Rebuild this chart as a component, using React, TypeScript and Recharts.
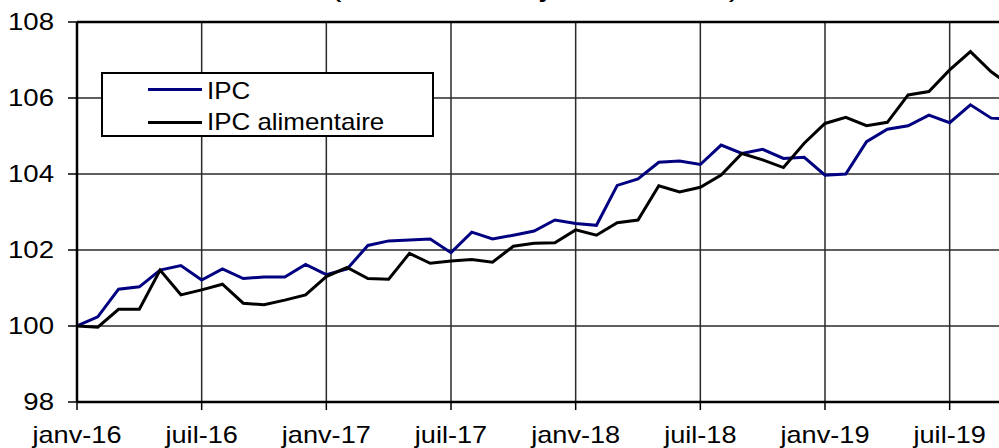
import {
  CartesianGrid,
  Legend,
  Line,
  LineChart,
  ReferenceLine,
  XAxis,
  YAxis,
} from "recharts";

// monthly index, base 100 = janv-16
const months = [
  "janv-16", "févr-16", "mars-16", "avr-16", "mai-16", "juin-16",
  "juil-16", "août-16", "sept-16", "oct-16", "nov-16", "déc-16",
  "janv-17", "févr-17", "mars-17", "avr-17", "mai-17", "juin-17",
  "juil-17", "août-17", "sept-17", "oct-17", "nov-17", "déc-17",
  "janv-18", "févr-18", "mars-18", "avr-18", "mai-18", "juin-18",
  "juil-18", "août-18", "sept-18", "oct-18", "nov-18", "déc-18",
  "janv-19", "févr-19", "mars-19", "avr-19", "mai-19", "juin-19",
  "juil-19", "août-19", "sept-19", "oct-19",
];

const ipc = [
  100.0, 100.24, 100.97, 101.03, 101.47, 101.59, 101.21, 101.5, 101.25, 101.29, 101.29, 101.62,
  101.35, 101.5, 102.12, 102.24, 102.26, 102.29, 101.93, 102.47, 102.29, 102.39, 102.5, 102.79,
  102.7, 102.65, 103.7, 103.87, 104.31, 104.34, 104.25, 104.76, 104.54, 104.65, 104.41, 104.44,
  103.97, 104.0, 104.85, 105.18, 105.27, 105.55, 105.35, 105.82, 105.47, 105.45,
];

const ipcAlim = [
  100.0, 99.97, 100.44, 100.44, 101.47, 100.82, 100.95, 101.1, 100.6, 100.56, 100.68, 100.82,
  101.3, 101.54, 101.25, 101.23, 101.91, 101.65, 101.71, 101.75, 101.68, 102.1, 102.18, 102.19,
  102.53, 102.39, 102.72, 102.79, 103.69, 103.53, 103.65, 103.97, 104.54, 104.37, 104.17, 104.81,
  105.33, 105.49, 105.27, 105.36, 106.08, 106.17, 106.74, 107.22, 106.69, 106.3,
];

const xTicks = [0, 6, 12, 18, 24, 30, 36, 42];
const yTicks = [98, 100, 102, 104, 106, 108];

const data = months.map((m, i) => ({ idx: i, month: m, ipc: ipc[i], alim: ipcAlim[i] }));

const FONT = "'Liberation Sans', Arial, sans-serif";

function YTick({ x, y, payload }: any) {
  return (
    <text
      transform={`translate(${x},${y}) scale(1.2,1)`}
      textAnchor="end"
      dy="0.36em"
      fontSize={23}
      fontFamily={FONT}
      fill="#000"
    >
      {payload.value}
    </text>
  );
}

function XTick({ x, y, payload }: any) {
  return (
    <text
      transform={`translate(${x},${y + 31}) scale(1.18,1)`}
      textAnchor="middle"
      fontSize={23}
      fontFamily={FONT}
      fill="#000"
    >
      {months[payload.value]}
    </text>
  );
}

function LegendBox() {
  const item = (color: string, label: string, lineTop: number, textTop: number) => (
    <>
      <div
        style={{
          position: "absolute",
          left: 45,
          top: lineTop,
          width: 54,
          height: 3,
          background: color,
        }}
      />
      <span
        style={{
          position: "absolute",
          left: 104,
          top: textTop,
          fontSize: 24,
          lineHeight: "24px",
          whiteSpace: "nowrap",
          transform: "scale(1.08,1)",
          transformOrigin: "left center",
          color: "#000",
        }}
      >
        {label}
      </span>
    </>
  );
  return (
    <div
      style={{
        position: "relative",
        width: 333,
        height: 65,
        boxSizing: "border-box",
        border: "2px solid #000",
        background: "#fff",
        fontFamily: FONT,
      }}
    >
      {item("#000080", "IPC", 13.5, 5)}
      {item("#000", "IPC alimentaire", 46.5, 36)}
    </div>
  );
}

export default function App() {
  return (
    <div
      style={{
        position: "absolute",
        left: 0,
        top: 0,
        width: 999,
        height: 448,
        overflow: "hidden",
        background: "#fff",
      }}
    >
      {/* title line sits above the crop, only its descenders show */}
      <svg width={999} height={20} style={{ position: "absolute", left: 0, top: 0 }}>
        <text
          transform="translate(535,-4) scale(1.15,1)"
          textAnchor="middle"
          fontSize={30}
          fontFamily={FONT}
          fill="#000"
        >
          (base 100 en janvier 2016)
        </text>
      </svg>
      <LineChart
        width={1012}
        height={448}
        data={data}
        margin={{ top: 22, right: 0, bottom: 0, left: 0 }}
      >
        <CartesianGrid stroke="#2a2a2a" strokeWidth={1.5} />
        <XAxis
          dataKey="idx"
          type="number"
          domain={[0, 45]}
          ticks={xTicks}
          interval={0}
          height={46}
          tickSize={8}
          tickMargin={2}
          axisLine={{ stroke: "#000", strokeWidth: 2.5 }}
          tickLine={{ stroke: "#000", strokeWidth: 1.5 }}
          tick={XTick}
          allowDataOverflow
        />
        <YAxis
          domain={[98, 108]}
          ticks={yTicks}
          interval={0}
          width={77}
          tickSize={9}
          tickMargin={14}
          axisLine={{ stroke: "#000", strokeWidth: 2.5 }}
          tickLine={{ stroke: "#000", strokeWidth: 1.5 }}
          tick={YTick}
          allowDataOverflow
        />
        <ReferenceLine y={108} stroke="#000" strokeWidth={2.5} />
        <Legend
          layout="horizontal"
          verticalAlign="middle"
          align="center"
          wrapperStyle={{ top: 72, left: 101, width: 333, height: 65 }}
          content={() => <LegendBox />}
        />
        <Line
          type="linear"
          dataKey="ipc"
          name="IPC"
          stroke="#000080"
          strokeWidth={3}
          dot={false}
          isAnimationActive={false}
        />
        <Line
          type="linear"
          dataKey="alim"
          name="IPC alimentaire"
          stroke="#000"
          strokeWidth={3}
          dot={false}
          isAnimationActive={false}
        />
      </LineChart>
    </div>
  );
}
